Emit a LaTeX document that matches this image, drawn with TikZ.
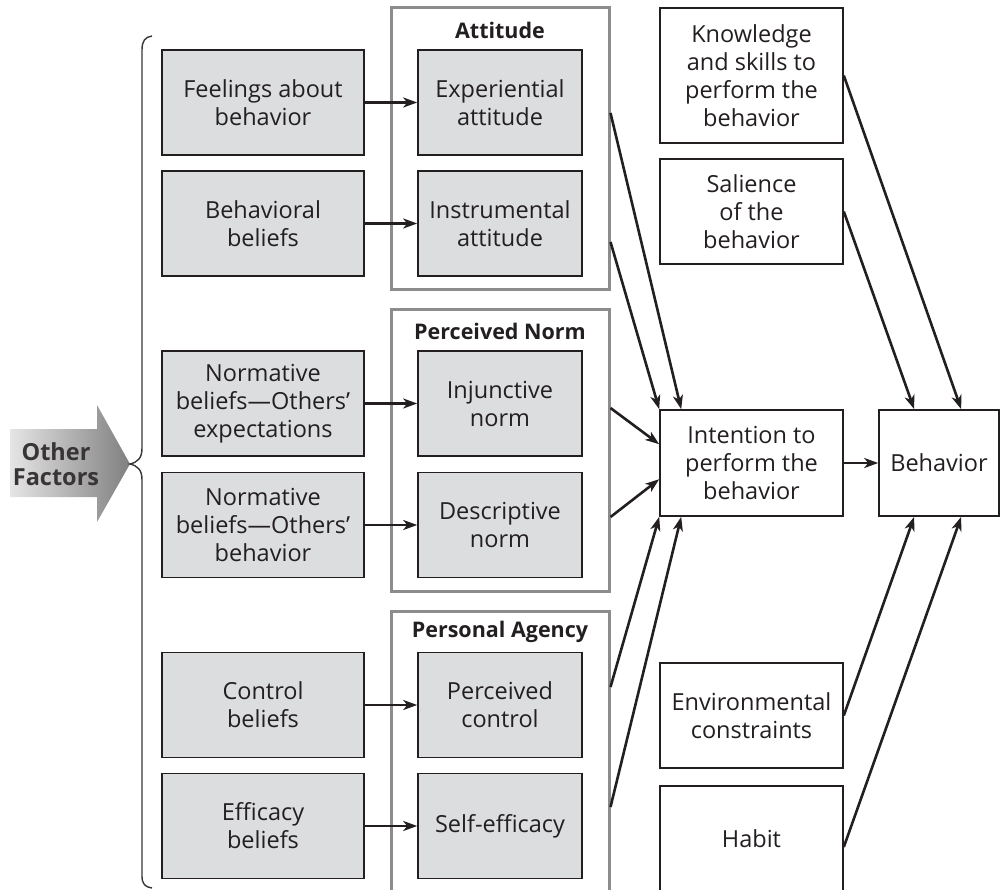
\documentclass[tikz,border=0pt]{standalone}
\usepackage{fontspec}
\setmainfont{Open Sans}
\usetikzlibrary{arrows.meta,calc}
\definecolor{ink}{HTML}{231F20}
\definecolor{boxgray}{HTML}{DCDDDF}
\definecolor{grpgray}{HTML}{8C8C8C}
\begin{document}
\begin{tikzpicture}[x=1pt,y=-1pt,
  txt/.style={font=\fontsize{23.5}{28}\selectfont, text=ink, align=center, inner sep=0pt},
  gbox/.style={txt, draw=ink, line width=1.6pt, fill=boxgray, minimum width=202pt, minimum height=105pt},
  ibox/.style={gbox, minimum width=164pt},
  wbox/.style={txt, draw=ink, line width=1.6pt, fill=white, minimum width=183pt, minimum height=105pt},
  grp/.style={draw=grpgray, line width=3pt, inner sep=0pt, minimum width=218pt},
  glabel/.style={font=\fontsize{21.5}{26}\selectfont\bfseries, text=ink, inner sep=0pt},
  conn/.style={draw=ink, line width=2.6pt, -{Stealth[length=14pt,width=10pt,inset=4pt]}}
]
\useasboundingbox (0,0) rectangle (1000,890);
\clip (0,0) rectangle (1000,890);

% group frames
\node[grp, minimum height=282pt] (att) at (500,149) {};
\node[grp, minimum height=282pt] (nrm) at (500,450) {};
\node[grp, minimum height=294pt] (agy) at (500,758) {};
\node[glabel] (attl) at (500,30) {Attitude};
\node[glabel] (nrml) at (500,331) {Perceived Norm};
\node[glabel] (agyl) at (500,632) {Personal Agency};

% left grey boxes
\node[gbox] (feel) at (263,102.5) {Feelings about\\behavior};
\node[gbox] (bbel) at (263,223.5) {Behavioral\\beliefs};
\node[gbox] (nbe) at (263,403.5) {Normative\\beliefs—Others’\\expectations};
\node[gbox] (nbb) at (263,525) {Normative\\beliefs—Others’\\behavior};
\node[gbox] (cbel) at (263,705) {Control\\beliefs};
\node[gbox] (ebel) at (263,826) {Efficacy\\beliefs};

% inner grey boxes
\node[ibox] (exp) at (500,102.5) {Experiential\\attitude};
\node[ibox] (ins) at (500,223.5) {Instrumental\\attitude};
\node[ibox] (inj) at (500,403.5) {Injunctive\\norm};
\node[ibox] (des) at (500,525) {Descriptive\\norm};
\node[ibox] (pco) at (500,705) {Perceived\\control};
\node[ibox] (sef) at (500,826) {Self-efficacy};

% right white boxes
\node[wbox, minimum height=135pt] (kno) at (751.5,75.5) {Knowledge\\and skills to\\perform the\\behavior};
\node[wbox] (sal) at (751.5,211.5) {Salience\\of the\\behavior};
\node[wbox, minimum height=106pt] (int) at (751.5,463) {Intention to\\perform the\\behavior};
\node[wbox] (env) at (751.5,715.5) {Environmental\\constraints};
\node[wbox, minimum height=106pt] (hab) at (751.5,839) {Habit};
\node[wbox, minimum width=120pt, minimum height=106pt] (beh) at (939,463) {Behavior};

% Other factors arrow
\shade[left color=black!10, right color=black!50]
  (10,429) -- (97,429) -- (97,405) -- (130,464) -- (97,522) -- (97,497) -- (10,497) -- cycle;
\node[font=\fontsize{23.5}{25.5}\selectfont\bfseries, text=ink!90, align=center, inner sep=0pt] (oth) at (56,464) {Other\\Factors};

% brace
\draw[ink!90, line width=1.4pt] (152,36) .. controls (145,37) and (142,41) .. (142,50)
  -- (142,448) .. controls (142,458) and (138,462) .. (130,464)
  .. controls (138,466) and (142,470) .. (142,480)
  -- (142,876) .. controls (142,884) and (145,887) .. (152,888);

% horizontal connectors
\draw[conn] (feel) -- (exp);
\draw[conn] (bbel) -- (ins);
\draw[conn] (nbe) -- (inj);
\draw[conn] (nbb) -- (des);
\draw[conn] (cbel) -- (pco);
\draw[conn] (ebel) -- (sef);

% into intention
\draw[conn] ($(att.east|-exp.center)+(0,10.5)$) -- ($(int.north west)+(22,0)$);
\draw[conn] ($(att.east|-ins.center)+(0,18.5)$) -- (int.north west);
\draw[conn] ($(nrm.east|-inj.center)+(0,4.5)$) -- ($(int.north west)+(0,35)$);
\draw[conn] ($(nrm.east|-des.center)+(0,-8)$) -- ($(int.north west)+(0,70)$);
\draw[conn] ($(agy.east|-pco.center)+(0,-18)$) -- (int.south west);
\draw[conn] ($(agy.east|-sef.center)+(0,-19)$) -- ($(int.south west)+(22,0)$);

% into behavior
\draw[conn] (int) -- (beh);
\draw[conn] (kno.east) -- ($(beh.north west)+(83,0)$);
\draw[conn] (sal.east) -- ($(beh.north west)+(36,0)$);
\draw[conn] (env.east) -- ($(beh.south west)+(36,0)$);
\draw[conn] ($(hab.east)+(0,8)$) -- ($(beh.south west)+(83,0)$);
\end{tikzpicture}
\end{document}
